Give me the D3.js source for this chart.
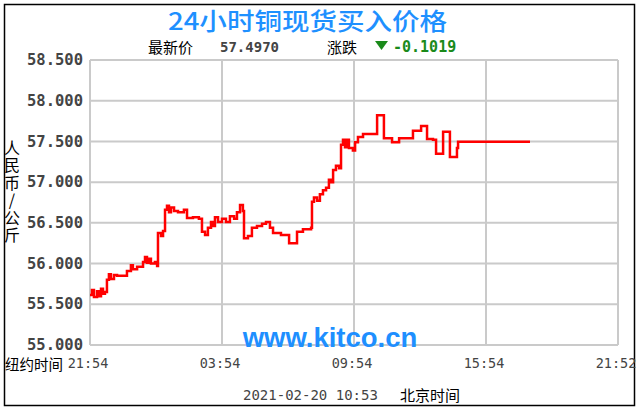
<html>
<head>
<meta charset="utf-8">
<script src="https://d3js.org/d3.v7.min.js"></script>
<style>
  body { margin: 0; background: #fff; }
</style>
</head>
<body>
<svg width="641" height="411"></svg>
<script>
// hours since 21:54 (New York) and copper buy price, RMB/kg
var hours = [0, 0.09, 0.18, 0.32, 0.41, 0.5, 0.59, 0.68, 0.77, 0.86, 0.95, 1.09, 1.23, 1.41, 1.68, 1.86, 1.95, 2.14,
  2.41, 2.5, 2.59, 2.68, 2.77, 2.95, 3.05, 3.09, 3.23, 3.32, 3.41, 3.5, 3.59, 3.68, 3.82, 4.0, 4.27, 4.41, 4.68,
  4.95, 5.09, 5.23, 5.36, 5.5, 5.59, 5.68, 5.82, 6.0, 6.18, 6.36, 6.55, 6.68, 6.82, 6.95, 7.0, 7.18, 7.36, 7.59,
  7.82, 8.0, 8.18, 8.32, 8.68, 9.05, 9.41, 9.68, 10.05, 10.09, 10.18, 10.32, 10.45, 10.59, 10.73, 10.86, 10.95,
  11.05, 11.18, 11.32, 11.41, 11.5, 11.59, 11.68, 11.77, 11.95, 12.05, 12.18, 12.41, 13.05, 13.36, 13.73, 14.05,
  14.68, 15.05, 15.32, 15.59, 15.73, 16.05, 16.36, 16.68, 16.73, 20.0];
var prices = [55.614, 55.675, 55.59, 55.66, 55.60, 55.69, 55.63, 55.65, 55.80, 55.87, 55.81, 55.86, 55.85, 55.85,
  55.91, 55.98, 55.93, 55.96, 56.02, 56.08, 56.01, 56.06, 56.00, 56.02, 55.97, 56.375, 56.34, 56.40, 56.66, 56.71,
  56.63, 56.69, 56.645, 56.63, 56.66, 56.56, 56.57, 56.55, 56.39, 56.35, 56.44, 56.51, 56.46, 56.57, 56.51, 56.55,
  56.51, 56.58, 56.55, 56.63, 56.72, 56.645, 56.31, 56.34, 56.44, 56.46, 56.49, 56.51, 56.44, 56.375, 56.35, 56.25,
  56.39, 56.42, 56.44, 56.76, 56.81, 56.77, 56.85, 56.90, 56.93, 57.03, 57.00, 57.15, 57.20, 57.17, 57.46, 57.52,
  57.43, 57.52, 57.42, 57.39, 57.49, 57.555, 57.59, 57.82, 57.54, 57.49, 57.54, 57.63, 57.69, 57.53, 57.52, 57.35,
  57.62, 57.31, 57.42, 57.497, 57.497];

var yTicks = [55.0, 55.5, 56.0, 56.5, 57.0, 57.5, 58.0, 58.5];
var xTickHours = [0, 6, 12, 18, 24];
var xTickLabels = ["21:54", "03:54", "09:54", "15:54", "21:52"];

var title = "24小时铜现货买入价格";
var yName = "人民币/公斤";
var lastPrice = "57.4970";
var change = "-0.1019";
var stamp = "2021-02-20 10:53";

var data = hours.map(function(h, i) { return [h, prices[i]]; });

var plot = {left: 90, right: 618, top: 60, bottom: 345};
var xScale = d3.scaleLinear().domain([0, 24]).range([plot.left, plot.right]);
var yScale = d3.scaleLinear().domain([55, 58.5]).range([plot.bottom, plot.top]);

var svg = d3.select("svg");
var mono = "'DejaVu Sans Mono', monospace";
var cjk = "'Noto Sans CJK SC', sans-serif";

svg.append("rect").attr("x", 0).attr("y", 0).attr("width", 641).attr("height", 411).attr("fill", "#fff");
svg.append("rect").attr("x", 4.5).attr("y", 4.5).attr("width", 630).attr("height", 401)
  .attr("fill", "none").attr("stroke", "#000").attr("stroke-width", 1.5);

// grid
var grid = svg.append("g").attr("stroke", "#cacaca").attr("stroke-width", 2);
grid.selectAll(".hg").data(yTicks).enter().append("line")
  .attr("x1", plot.left).attr("x2", plot.right)
  .attr("y1", d => yScale(d)).attr("y2", d => yScale(d));
grid.selectAll(".vg").data(xTickHours).enter().append("line")
  .attr("x1", d => xScale(d)).attr("x2", d => xScale(d))
  .attr("y1", plot.top).attr("y2", plot.bottom);

// y labels
svg.append("g").selectAll("text").data(yTicks).enter().append("text")
  .attr("x", 83).attr("y", d => yScale(d)).attr("dy", "0.33em")
  .attr("text-anchor", "end").attr("font-family", mono).attr("font-weight", "bold")
  .attr("font-size", 15.5).attr("fill", "#444")
  .text(d => d3.format(".3f")(d));

// x labels
svg.append("g").selectAll("text").data(xTickHours).enter().append("text")
  .attr("x", d => xScale(d) - 2).attr("y", 368)
  .attr("text-anchor", "middle").attr("font-family", mono)
  .attr("font-size", 13.5).attr("fill", "#444")
  .text((d, i) => xTickLabels[i]);

svg.append("text").attr("x", 5).attr("y", 370).attr("font-family", cjk)
  .attr("font-size", 14.5).attr("fill", "#000").text("纽约时间");

// y axis name, vertical upright
svg.append("text").attr("x", 12).attr("y", 140)
  .attr("font-family", cjk).attr("font-size", 16).attr("fill", "#000")
  .attr("letter-spacing", 1.4)
  .style("writing-mode", "vertical-rl").style("text-orientation", "upright")
  .text(yName);

// title
svg.append("text").attr("x", 168).attr("y", 30).attr("font-family", cjk)
  .attr("font-size", 24).attr("font-weight", 500).attr("fill", "#1e90ff")
  .attr("textLength", 279).attr("lengthAdjust", "spacingAndGlyphs").text(title);

// last price row
svg.append("text").attr("x", 148).attr("y", 53).attr("font-family", cjk)
  .attr("font-size", 15).attr("fill", "#000").text("最新价");
svg.append("text").attr("x", 220).attr("y", 52).attr("font-family", mono).attr("font-weight", "bold")
  .attr("font-size", 14).attr("fill", "#444").text(lastPrice);
svg.append("text").attr("x", 327).attr("y", 53).attr("font-family", cjk)
  .attr("font-size", 15).attr("fill", "#000").text("涨跌");
svg.append("path").attr("d", "M375,41 L388,41 L381.5,50 Z").attr("fill", "#1a8a1a");
svg.append("text").attr("x", 393).attr("y", 52).attr("font-family", mono).attr("font-weight", "bold")
  .attr("font-size", 15).attr("fill", "#1a8a1a").text(change);

// bottom time stamp
svg.append("text").attr("x", 243).attr("y", 400).attr("font-family", mono)
  .attr("font-size", 14).attr("fill", "#444").text(stamp);
svg.append("text").attr("x", 400).attr("y", 401).attr("font-family", cjk)
  .attr("font-size", 15).attr("fill", "#000").text("北京时间");

// watermark
svg.append("text").attr("x", 330).attr("y", 347).attr("text-anchor", "middle")
  .attr("font-family", "'Liberation Sans', Arial, sans-serif").attr("font-weight", "bold")
  .attr("font-size", 27.5).attr("fill", "#1e8fff").text("www.kitco.cn");

// price line
var line = d3.line().x(d => xScale(d[0])).y(d => yScale(d[1])).curve(d3.curveStepAfter);
svg.append("path").datum(data).attr("d", line)
  .attr("fill", "none").attr("stroke", "#ff0000").attr("stroke-width", 2.5);
</script>
</body>
</html>
